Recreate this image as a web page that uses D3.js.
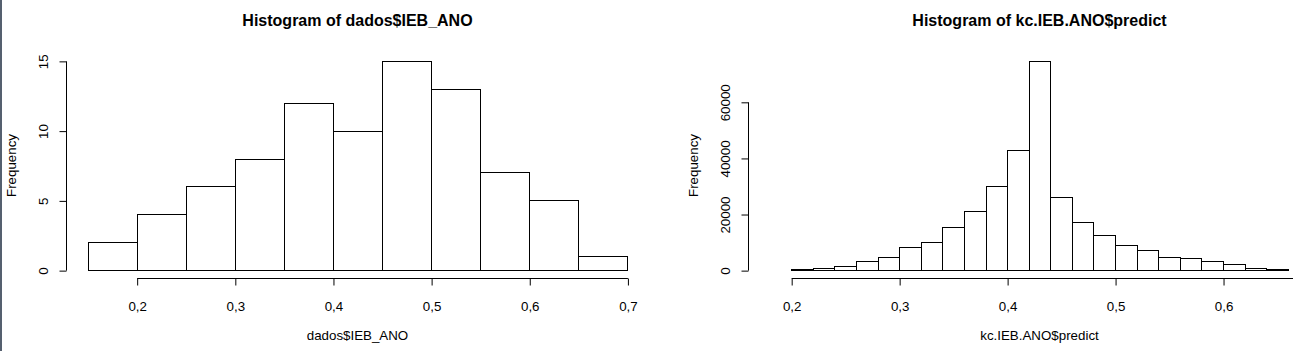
<!DOCTYPE html>
<html>
<head>
<meta charset="utf-8">
<script src="https://cdn.jsdelivr.net/npm/d3@7"></script>
<style>
  body { margin: 0; background: #fff; }
  svg { display: block; font-family: "Liberation Sans", Arial, Helvetica, sans-serif; }
  .tick text { font-size: 13.33px; fill: #000; }
</style>
</head>
<body>
<div id="chart"></div>
<script>
// left histogram: breaks 0.15 .. 0.70 by 0.05
var leftBreaks = [0.15, 0.20, 0.25, 0.30, 0.35, 0.40, 0.45, 0.50, 0.55, 0.60, 0.65, 0.70];
var leftCounts = [2, 4, 6, 8, 12, 10, 15, 13, 7, 5, 1];
var leftXTicks = [0.2, 0.3, 0.4, 0.5, 0.6, 0.7];
var leftYTicks = [0, 5, 10, 15];

// right histogram: breaks 0.18 .. 0.68 by 0.02
var rightBreaks = [0.18, 0.20, 0.22, 0.24, 0.26, 0.28, 0.30, 0.32, 0.34, 0.36, 0.38, 0.40, 0.42,
    0.44, 0.46, 0.48, 0.50, 0.52, 0.54, 0.56, 0.58, 0.60, 0.62, 0.64, 0.66, 0.68];
var rightCounts = [100, 400, 700, 1500, 3300, 4600, 8200, 10100, 15300, 21200, 29900, 43000, 74600,
    26100, 17100, 12700, 8800, 7200, 4700, 4300, 3100, 2300, 800, 400, 150];
var rightXTicks = [0.2, 0.3, 0.4, 0.5, 0.6, 0.7];
var rightYTicks = [0, 20000, 40000, 60000];

var W = 1300, H = 351;

var svg = d3.select("#chart").append("svg")
    .attr("width", W)
    .attr("height", H);

// dark strip on the left edge of the screenshot
svg.append("rect").attr("x", 0).attr("y", 0).attr("width", 2).attr("height", H).attr("fill", "#55606f");

var comma = function (d) { return String(d).replace(".", ","); };

function histogram(opt) {
    // plot region (R style: data range extended by 4% on each side)
    var left = opt.left, right = left + 583, top = 52.5, bottom = 278.5;
    var xr = opt.breaks[opt.breaks.length - 1] - opt.breaks[0];
    var ymax = d3.max(opt.counts);
    var edge = opt.clip || W;

    var x = d3.scaleLinear()
        .domain([opt.breaks[0] - 0.04 * xr, opt.breaks[opt.breaks.length - 1] + 0.04 * xr])
        .range([left, right]);
    var y = d3.scaleLinear()
        .domain([-0.04 * ymax, 1.04 * ymax])
        .range([bottom, top]);

    var g = svg.append("g");

    if (opt.clip) {
        svg.append("clipPath").attr("id", "clip" + opt.id)
            .append("rect").attr("x", 0).attr("y", 0).attr("width", opt.clip).attr("height", H);
        g.attr("clip-path", "url(#clip" + opt.id + ")");
    }

    var bins = opt.counts.map(function (c, i) {
        return { x0: opt.breaks[i], x1: opt.breaks[i + 1], n: c };
    });

    g.selectAll("rect.bar")
        .data(bins)
        .join("rect")
        .attr("class", "bar")
        .attr("x", function (d) { return Math.round(x(d.x0)) + 0.5; })
        .attr("width", function (d) { return Math.round(x(d.x1)) - Math.round(x(d.x0)); })
        .attr("y", function (d) { return Math.round(y(d.n)) + 0.5; })
        .attr("height", function (d) { return Math.round(y(0)) - Math.round(y(d.n)); })
        .attr("fill", "#fff")
        .attr("stroke", "#000")
        .attr("stroke-width", 1);

    // x axis: line runs from first to last tick, labels only where the picture shows them
    var shown = opt.xTicks.filter(function (t) { return x(t) < edge - 10; });
    var xAxis = d3.axisBottom(x)
        .tickValues(shown)
        .tickFormat(comma)
        .tickSize(7)
        .tickPadding(16);
    var gx = g.append("g")
        .attr("transform", "translate(0.5," + bottom + ")")
        .call(xAxis);
    gx.select(".domain").remove();
    gx.selectAll(".tick line").attr("stroke", "#000");
    gx.append("line")
        .attr("x1", x(opt.xTicks[0])).attr("x2", x(opt.xTicks[opt.xTicks.length - 1]))
        .attr("stroke", "#000");

    // y axis
    var yAxis = d3.axisLeft(y)
        .tickValues(opt.yTicks)
        .tickFormat(d3.format("d"))
        .tickSize(7)
        .tickPadding(11);
    var gy = g.append("g")
        .attr("transform", "translate(" + (left + 0.5) + ",0.5)")
        .call(yAxis);
    gy.select(".domain").remove();
    gy.append("line")
        .attr("y1", y(opt.yTicks[0])).attr("y2", y(opt.yTicks[opt.yTicks.length - 1]))
        .attr("stroke", "#000");
    gy.selectAll(".tick text")
        .attr("x", 0).attr("dy", 0)
        .attr("text-anchor", "middle")
        .attr("transform", "translate(-19,0) rotate(-90)");

    // titles
    var cx = (left + right) / 2;
    g.append("text")
        .attr("x", cx).attr("y", 26)
        .attr("text-anchor", "middle")
        .style("font-size", "16px")
        .style("font-weight", "bold")
        .text(opt.title);

    g.append("text")
        .attr("x", cx).attr("y", 340)
        .attr("text-anchor", "middle")
        .style("font-size", "13.33px")
        .text(opt.xlab);

    g.append("text")
        .attr("transform", "translate(" + (left - 50) + "," + ((top + bottom) / 2) + ") rotate(-90)")
        .attr("text-anchor", "middle")
        .style("font-size", "13.33px")
        .text("Frequency");
}

histogram({
    id: "L", left: 66,
    breaks: leftBreaks, counts: leftCounts,
    xTicks: leftXTicks, yTicks: leftYTicks,
    title: "Histogram of dados$IEB_ANO", xlab: "dados$IEB_ANO"
});

histogram({
    id: "R", left: 748, clip: 1293,
    breaks: rightBreaks, counts: rightCounts,
    xTicks: rightXTicks, yTicks: rightYTicks,
    title: "Histogram of kc.IEB.ANO$predict", xlab: "kc.IEB.ANO$predict"
});
</script>
</body>
</html>
